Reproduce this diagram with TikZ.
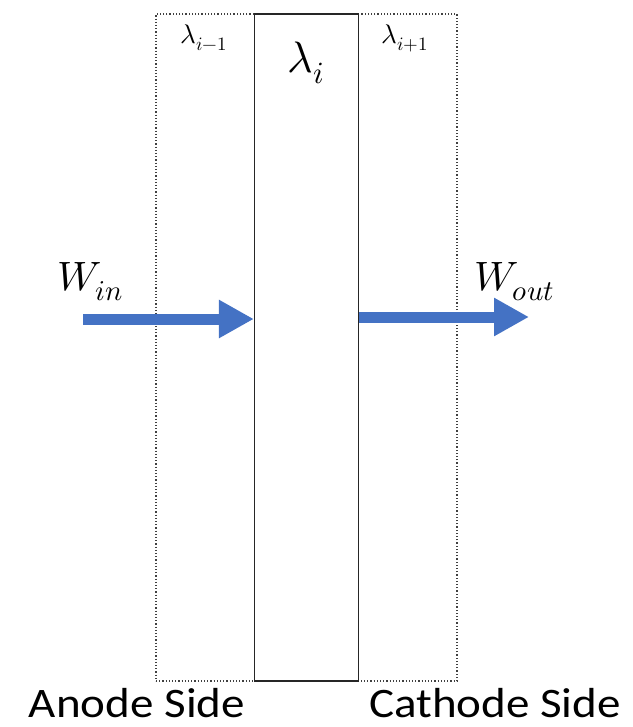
\documentclass[tikz,border=0pt]{standalone}
\usepackage{fontspec}
\usepackage{unicode-math}
\setmathfont{Latin Modern Math}
\newfontfamily\sidefont[FakeStretch=1.12]{Carlito}
\usetikzlibrary{arrows.meta}
\definecolor{flowblue}{RGB}{68,114,196}
\tikzset{
  layerbox/.style={draw=black!75, dotted, line width=1.2pt, inner sep=0pt},
  membrane/.style={draw=black!85, line width=1.3pt, inner sep=0pt},
  flow/.style={flowblue, line width=11pt, -{Triangle[length=35pt,width=36pt]}},
  sidelabel/.style={font=\sidefont\fontsize{42}{46}\selectfont, inner sep=0pt, anchor=base},
  biglabel/.style={font=\fontsize{41}{46}\selectfont, inner sep=0pt, anchor=base west},
  smalllam/.style={font=\fontsize{27}{30}\selectfont, inner sep=0pt, anchor=base},
}
\begin{document}
\begin{tikzpicture}[x=1pt,y=-1pt]
\useasboundingbox (0,0) rectangle (632,727);
\node[layerbox, minimum width=301pt, minimum height=667pt] (outer) at (306.5,347.5) {};
\node[membrane, fill=white, minimum width=104pt, minimum height=667pt] (mid) at (306.5,347.5) {};
\node[smalllam] (lm) at (204,44) {$\lambda_{i-1}$};
\node[smalllam] (lp) at (405,44) {$\lambda_{i+1}$};
\node[inner sep=0pt, anchor=base, font=\fontsize{44}{50}\selectfont] (li) at (306,73) {$\lambda_i$};
\node[biglabel] (win) at (57,290) {$W_{in}$};
\node[biglabel] (wout) at (474,290) {$W_{out}$};
\coordinate (inStart) at (83,319);
\coordinate (outEnd) at (529,317);
\draw[flow] (inStart) -- (inStart -| mid.west);
\draw[flow] (mid.east |- outEnd) -- (outEnd);
\node[sidelabel] (anode) at (137,717) {Anode Side};
\node[sidelabel] (cathode) at (495,717) {Cathode Side};
\end{tikzpicture}
\end{document}
